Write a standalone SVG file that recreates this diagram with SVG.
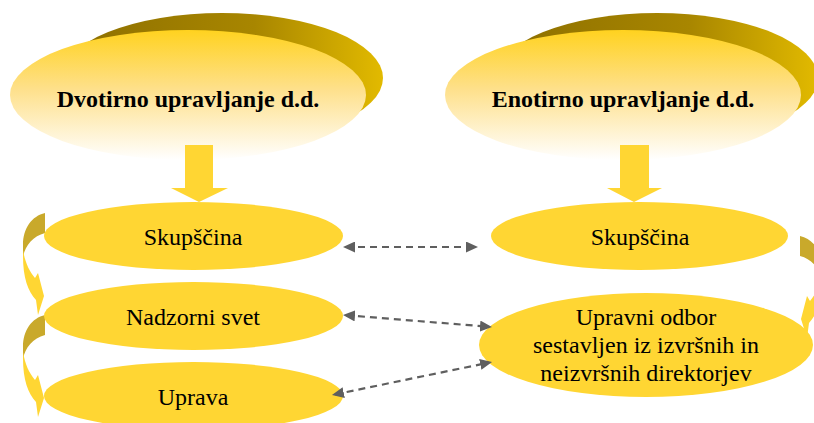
<svg xmlns="http://www.w3.org/2000/svg" width="814" height="423" viewBox="0 0 814 423">
<defs>
<linearGradient id="gFront" x1="0" y1="0" x2="0" y2="1">
<stop offset="0" stop-color="#FFD21F"/>
<stop offset="0.45" stop-color="#FEE08A"/>
<stop offset="1" stop-color="#FFFFFF"/>
</linearGradient>
<linearGradient id="gBack" x1="0" y1="0" x2="1" y2="0">
<stop offset="0" stop-color="#8C6E00"/>
<stop offset="0.6" stop-color="#A88600"/>
<stop offset="1" stop-color="#E2BA00"/>
</linearGradient>
<marker id="ah" viewBox="0 0 12 11" markerWidth="12" markerHeight="11" refX="9" refY="5.5" orient="auto-start-reverse" markerUnits="userSpaceOnUse">
<path d="M0,0 L12,5.5 L0,11 Z" fill="#5F5F5F"/>
</marker>
<g id="curveArrow">
<path d="M45,213 C32,216 23,228 23,245 L23,257 C25,246 33,236 45,233 Z" fill="#C9A92B"/>
<path d="M23,250 C25,262 29,271 35,278 L38,273 L44,296 L38,315 L36,300 C28,291 23,278 23,256 Z" fill="#FFD633"/>
</g>
</defs>
<style>
.node{fill:#FFD633}
.lbl{font-size:24px;fill:#000;text-anchor:middle}
.ttl{font-size:24px;font-weight:bold;fill:#000;text-anchor:middle}
.dash{fill:none;stroke:#5F5F5F;stroke-width:2.2;stroke-dasharray:7 5;marker-start:url(#ah);marker-end:url(#ah)}
.bigArrow{fill:#FFD633}
</style>
<rect width="814" height="423" fill="#FFFFFF"/>

<g id="title-left">
<ellipse cx="222" cy="78" rx="161" ry="65" fill="url(#gBack)"/>
<ellipse cx="188" cy="95" rx="178" ry="65" fill="url(#gFront)"/>
<text class="ttl" x="188" y="107" font-family="Liberation Serif, serif">Dvotirno upravljanje d.d.</text>
</g>
<g id="title-right">
<ellipse cx="657" cy="78" rx="161" ry="65" fill="url(#gBack)"/>
<ellipse cx="623" cy="95" rx="178" ry="65" fill="url(#gFront)"/>
<text class="ttl" x="623" y="107" font-family="Liberation Serif, serif">Enotirno upravljanje d.d.</text>
</g>

<g id="arrow-left-down">
<path class="bigArrow" d="M185,145 L213,145 L213,188 L228,188 L199,202 L171,188 L185,188 Z"/>
</g>
<g id="arrow-right-down">
<path class="bigArrow" d="M620,145 L649,145 L649,188 L662,188 L634,202 L607,188 L620,188 Z"/>
</g>

<g id="flow-left">
<use href="#curveArrow"/>
<use href="#curveArrow" transform="translate(0,102)"/>
</g>
<g id="flow-right">
<use href="#curveArrow" transform="translate(845,23) scale(-1,1)"/>
</g>

<g id="skupscina-left">
<ellipse class="node" cx="193.5" cy="236" rx="149.5" ry="34"/>
<text class="lbl" x="193" y="245" font-family="Liberation Serif, serif">Skupščina</text>
</g>
<g id="nadzorni-svet">
<ellipse class="node" cx="193.5" cy="316" rx="149.5" ry="34"/>
<text class="lbl" x="193" y="325" font-family="Liberation Serif, serif">Nadzorni svet</text>
</g>
<g id="uprava">
<ellipse class="node" cx="193.5" cy="396" rx="149.5" ry="34"/>
<text class="lbl" x="193" y="405" font-family="Liberation Serif, serif">Uprava</text>
</g>
<g id="skupscina-right">
<ellipse class="node" cx="639.5" cy="236" rx="148.5" ry="34"/>
<text class="lbl" x="640" y="245" font-family="Liberation Serif, serif">Skupščina</text>
</g>
<g id="upravni-odbor">
<ellipse class="node" cx="646" cy="345" rx="167" ry="52"/>
<text class="lbl" x="646" y="325" font-family="Liberation Serif, serif">Upravni odbor</text>
<text class="lbl" x="646" y="353" font-family="Liberation Serif, serif">sestavljen iz izvršnih in</text>
<text class="lbl" x="646" y="381" font-family="Liberation Serif, serif">neizvršnih direktorjev</text>
</g>

<g id="connectors">
<path class="dash" d="M346,247 L475,247"/>
<path class="dash" d="M346,315.2 L489,326.8"/>
<path class="dash" d="M334.9,394.4 L489.1,362.6"/>
</g>
</svg>
